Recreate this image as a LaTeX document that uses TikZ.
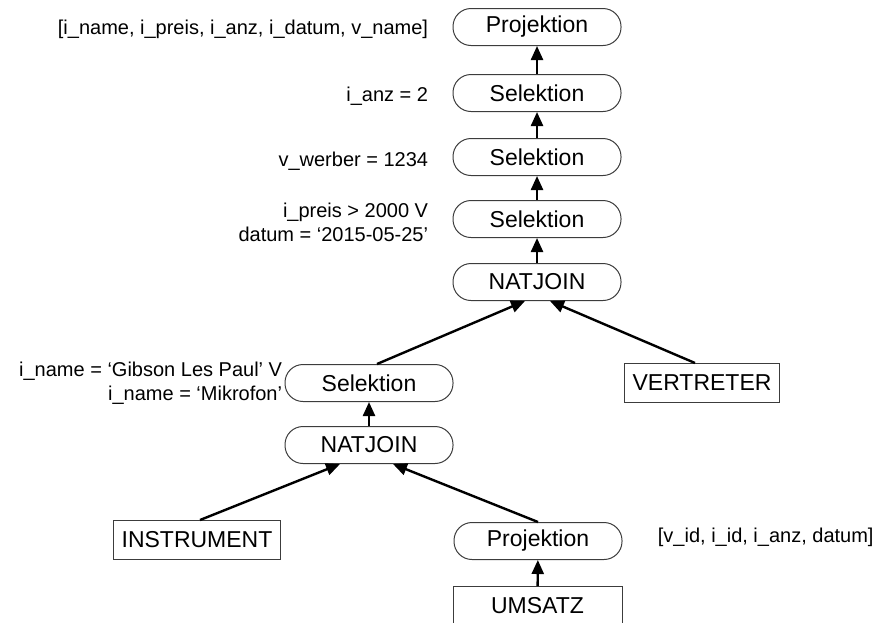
\documentclass[tikz,border=0pt]{standalone}
\usepackage{fontspec}
\setmainfont{Liberation Sans}
\usetikzlibrary{arrows.meta,positioning}
\definecolor{myborder}{RGB}{60,60,60}

\tikzset{
  op/.style={draw=myborder, line width=0.5pt, rounded corners=9pt, minimum width=84pt, minimum height=18.5pt, font=\fontsize{11.5}{13}\selectfont},
  rel/.style={draw=myborder, line width=0.5pt, inner xsep=4pt, minimum height=19.5pt, font=\fontsize{11.5}{13}\selectfont},
  cond/.style={inner sep=0pt, align=right, font=\fontsize{10}{12}\selectfont},
  arr/.style={-{Triangle[length=7pt,width=6pt]}, line width=1.2pt}
}

\begin{document}
\begin{tikzpicture}[x=0.5pt,y=-0.5pt]
        \useasboundingbox (0,0) rectangle (886,622);
        \clip (0,0) rectangle (886,622);

        % Operatoren (Hauptstrang)
        \node[op] (proj) at (537,27) {Projektion};
        \node[op] (selA) at (537,93) {Selektion};
        \node[op] (selB) at (537,157) {Selektion};
        \node[op] (selC) at (537,219) {Selektion};
        \node[op] (joinA) at (537,282) {NATJOIN};

        % linker Teilbaum
        \node[op] (selD) at (369,383) {Selektion};
        \node[op] (joinB) at (369,445) {NATJOIN};
        \node[op] (projB) at (538,541) {Projektion};

        % Relationen
        \node[rel] (vert) at (702,383) {VERTRETER};
        \node[rel] (instr) at (197,540) {INSTRUMENT};
        \node[rel, minimum width=84.5pt] (umsatz) at (537.5,606) {UMSATZ};

        % Bedingungen
        \node[cond, left=12pt of proj, yshift=-1pt] (cproj) {[i\_name, i\_preis, i\_anz, i\_datum, v\_name]};
        \node[cond, left=12pt of selA, yshift=-1.5pt] (cselA) {i\_anz = 2};
        \node[cond, left=12pt of selB, yshift=-2pt] (cselB) {v\_werber = 1234};
        \node[cond, left=12pt of selC, yshift=-1.5pt] (cselC) {i\_preis > 2000 V\\datum = `2015-05-25'};
        \node[cond, left=1pt of selD] (cselD) {i\_name = `Gibson Les Paul' V\\i\_name = `Mikrofon'};
        \node[cond, right=17.5pt of projB, anchor=west, yshift=2pt] (cprojB) {[v\_id, i\_id, i\_anz, datum]};

        % Kanten
        \draw[arr] (selA) -- (proj);
        \draw[arr] (selB) -- (selA);
        \draw[arr] (selC) -- (selB);
        \draw[arr] (joinA) -- (selC);
        \draw[arr] ([xshift=4pt]selD.north) -- ([xshift=-6pt]joinA.south);
        \draw[arr] ([xshift=-3.5pt]vert.north) -- ([xshift=6.5pt]joinA.south);
        \draw[arr] (joinB) -- (selD);
        \draw[arr] ([xshift=1.5pt]instr.north) -- ([xshift=-14.5pt]joinB.south);
        \draw[arr] (projB.north) -- ([xshift=12pt]joinB.south);
        \draw[arr] (umsatz) -- (projB);
\end{tikzpicture}
\end{document}
